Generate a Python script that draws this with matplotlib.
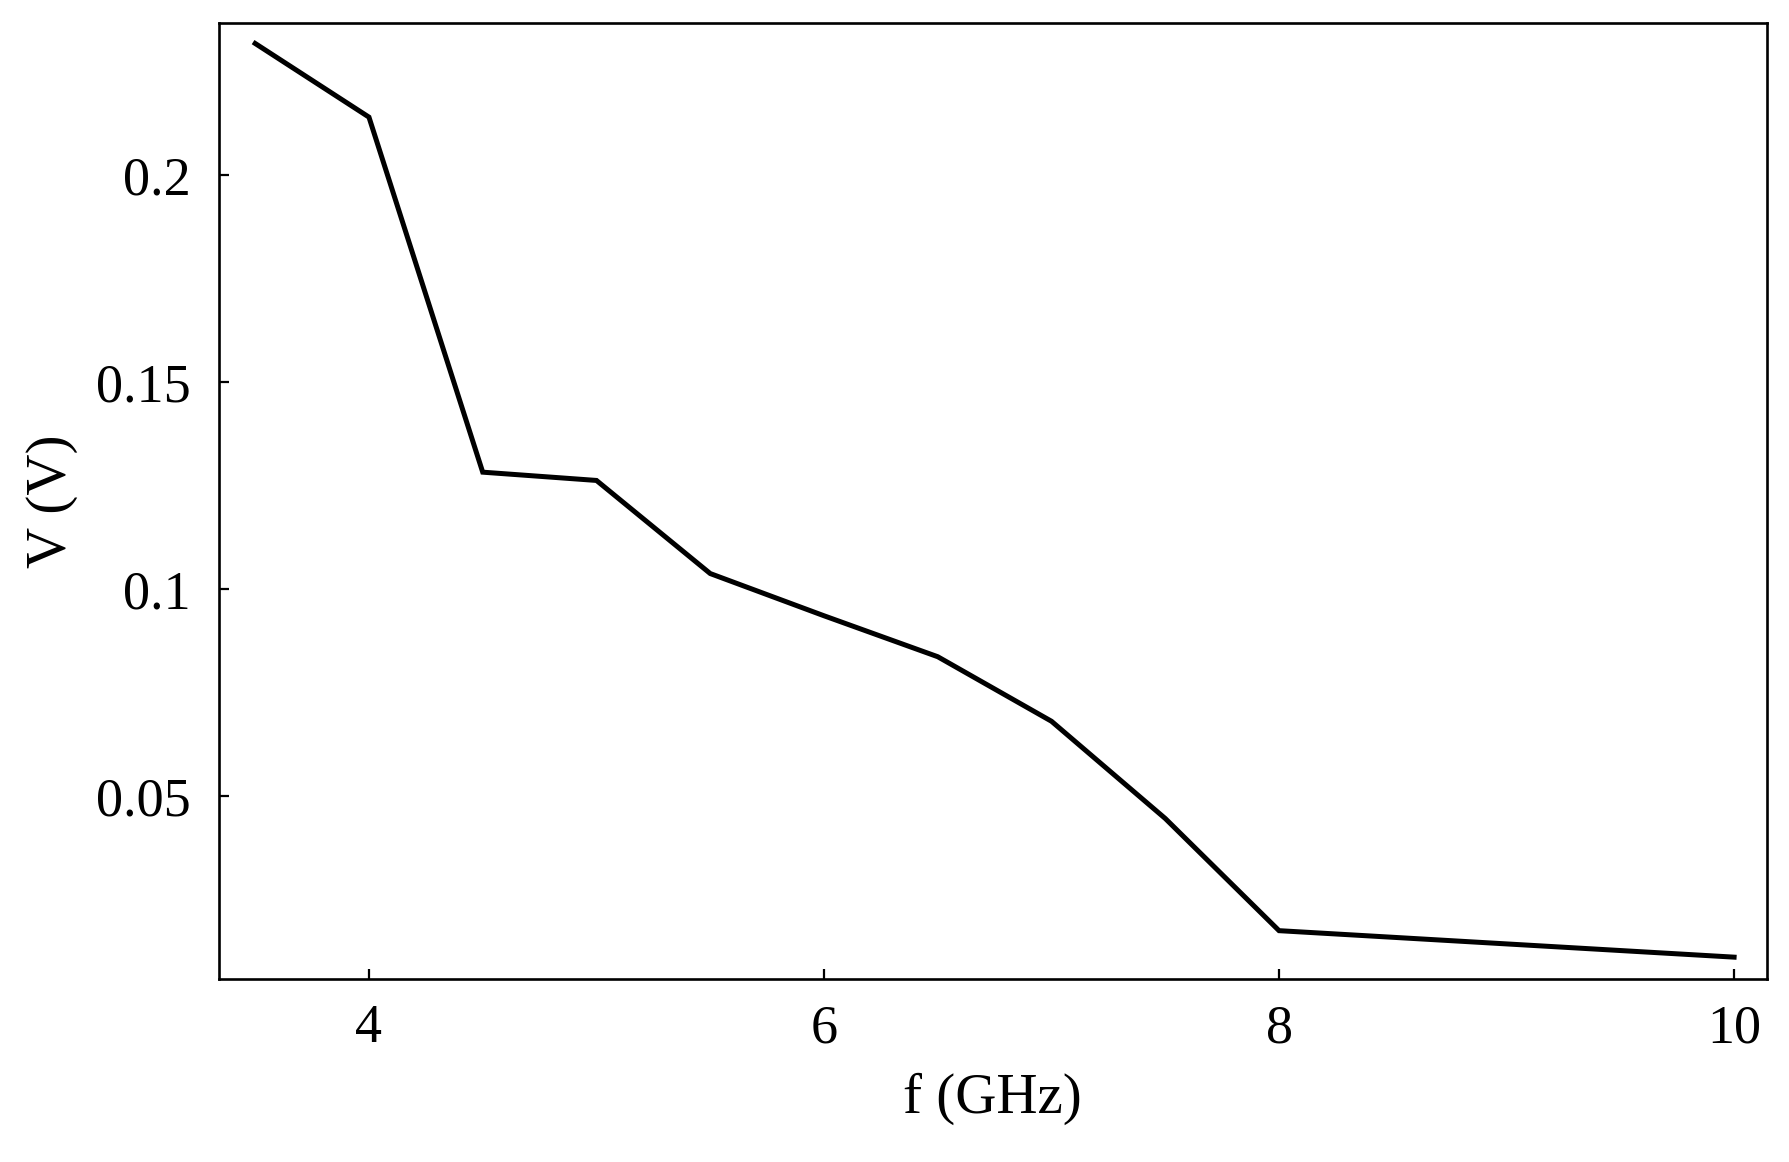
import matplotlib
matplotlib.use("Agg")
import matplotlib.pyplot as plt

# ===== DADOS =====
freq_ghz = [3.5, 4.0, 4.5, 5.0, 5.5, 6.0, 6.5, 7.0, 7.5, 8.0, 8.5, 9.0, 9.5, 10.0]
tensao_v = [0.2318, 0.2140, 0.1282, 0.1262, 0.1037, 0.0935, 0.0836, 0.0680,
            0.0445, 0.0174, 0.0158, 0.0142, 0.0126, 0.0110]

xticks = [4, 6, 8, 10]
yticks = [0.05, 0.1, 0.15, 0.2]
yticklabels = ["0.05", "0.1", "0.15", "0.2"]

plt.rcParams["font.family"] = ["Liberation Serif", "DejaVu Serif"]

fig = plt.figure(figsize=(17.9, 11.62), dpi=100)
ax = fig.add_axes([0.1221, 0.1577, 0.8651, 0.8227])

ax.plot(freq_ghz, tensao_v, color="black", lw=3.6, solid_joinstyle="miter")

ax.set_xlim(3.339, 10.145)
ax.set_ylim(0.00578, 0.2368)

ax.set_xticks(xticks)
ax.set_yticks(yticks)
ax.set_yticklabels(yticklabels)

ax.tick_params(direction="in", length=7, width=1.6, labelsize=39,
               top=False, right=False)
ax.tick_params(axis="y", pad=20)
ax.tick_params(axis="x", pad=18)

for s in ax.spines.values():
    s.set_linewidth(1.9)

ax.set_xlabel("f (GHz)", fontsize=41, labelpad=13)
ax.set_ylabel("V (V)", fontsize=41, labelpad=13)

fig.savefig("out.png", dpi=100)
